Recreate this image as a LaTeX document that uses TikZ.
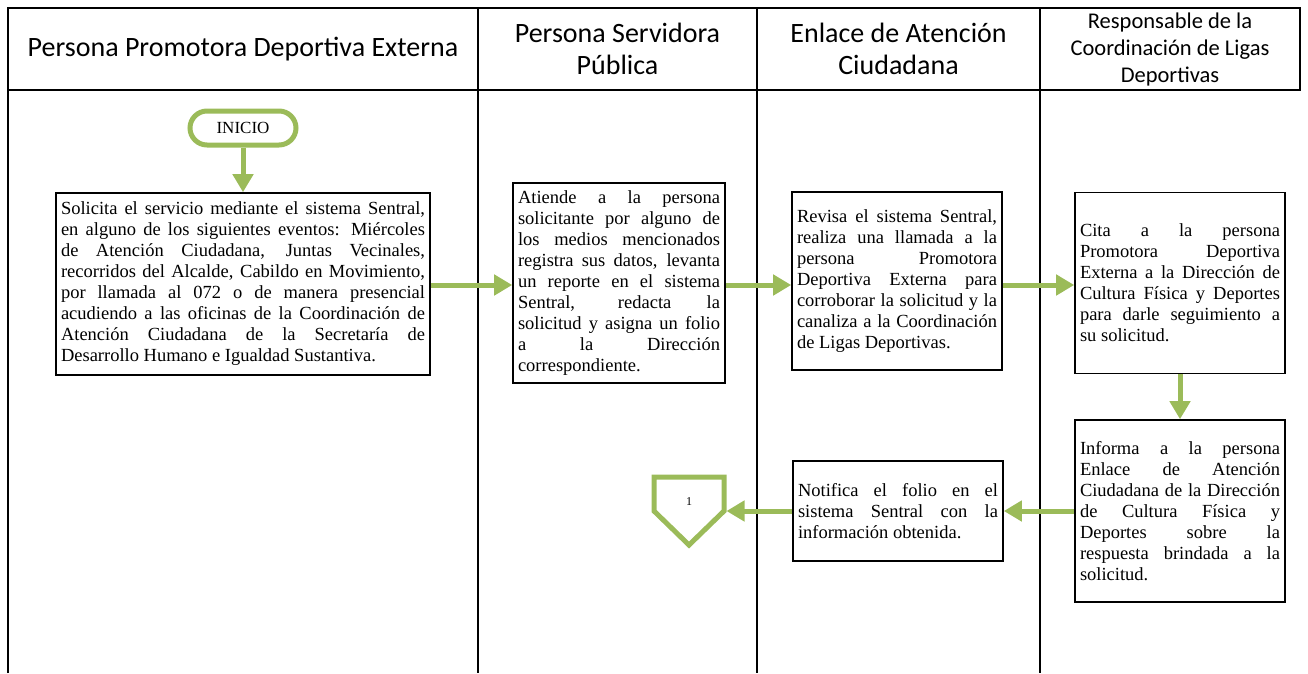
\documentclass[tikz,border=0pt]{standalone}
\usepackage{fontspec}
\setmainfont{Liberation Serif}
\newfontfamily\encab{Carlito}
\usetikzlibrary{arrows.meta}

\definecolor{verde}{HTML}{9BBB59}
\newcommand\cuerpo{\fontsize{18.5}{21}\selectfont\tolerance=10000\hyphenpenalty=10000}

\tikzset{
    carril/.style={line width=1.4pt},
    titulo/.style={font=\encab\fontsize{28}{32}\selectfont, align=center},
    caja/.style={draw, line width=1.6pt, align=justify, inner sep=5pt, font=\cuerpo},
    flecha/.style={draw=verde, line width=5pt, -{Triangle[length=18pt,width=20pt]}},
}

\begin{document}
\begin{tikzpicture}[x=1pt, y=-1pt]
    \useasboundingbox (0,0) rectangle (1308,673);
    % Draw lanes
    \draw[carril] (8,673) -- (8,8) -- (1300,8) -- (1300,90) -- (8,90);
    \foreach \x in {478,757,1040}
        \draw[carril] (\x,8) -- (\x,673);
    \node[titulo] (t1) at (243,49) {Persona Promotora Deportiva Externa};
    \node[titulo] (t2) at (617.5,49) {Persona Servidora\\Pública};
    \node[titulo] (t3) at (898.5,49) {Enlace de Atención\\Ciudadana};
    \node[titulo, font=\encab\fontsize{22.5}{27}\selectfont] (t4) at (1170,49) {Responsable de la\\Coordinación de Ligas\\Deportivas};
    % Draw boxes
    \node[draw=verde, line width=5pt, rounded corners=17pt, minimum width=106pt, minimum height=34pt, font=\fontsize{17}{19}\selectfont] (inicio) at (243,128) {INICIO};
    \node[caja, text width=364pt, minimum height=182pt] (b1) at (243,284) {Solicita el servicio mediante el sistema Sentral,\linebreak en alguno de los siguientes eventos: Miércoles\linebreak de Atención Ciudadana, Juntas Vecinales,\linebreak recorridos del Alcalde, Cabildo en Movimiento,\linebreak por llamada al 072 o de manera presencial\linebreak acudiendo a las oficinas de la Coordinación de\linebreak Atención Ciudadana de la Secretaría de\linebreak Desarrollo Humano e Igualdad Sustantiva.};
    \node[caja, text width=202pt, minimum height=200pt] (b2) at (619,283) {Atiende a la persona\linebreak solicitante por alguno de\linebreak los medios mencionados\linebreak registra sus datos, levanta\linebreak un reporte en el sistema\linebreak Sentral, redacta la\linebreak solicitud y asigna un folio\linebreak a la Dirección\linebreak correspondiente.};
    \node[caja, text width=200pt, minimum height=178pt] (b3) at (897,281) {Revisa el sistema Sentral,\linebreak realiza una llamada a la\linebreak persona Promotora\linebreak Deportiva Externa para\linebreak corroborar la solicitud y la\linebreak canaliza a la Coordinación\linebreak de Ligas Deportivas.};
    \node[caja, text width=200pt, minimum height=181pt] (b4) at (1180,283) {Cita a la persona\linebreak Promotora Deportiva\linebreak Externa a la Dirección de\linebreak Cultura Física y Deportes\linebreak para darle seguimiento a\linebreak su solicitud.};
    \node[caja, text width=200pt, minimum height=182pt] (b5) at (1180,511) {Informa a la persona\linebreak Enlace de Atención\linebreak Ciudadana de la Dirección\linebreak de Cultura Física y\linebreak Deportes sobre la\linebreak respuesta brindada a la\linebreak solicitud.};
    \node[caja, text width=200pt, minimum height=100pt] (b6) at (898,511) {Notifica el folio en el\linebreak sistema Sentral con la\linebreak información obtenida.};
    % Draw connector
    \draw[draw=verde, line width=5pt] (654,477) -- (724,477) -- (724,511) -- (689,545) -- (654,511) -- cycle;
    \node[font=\fontsize{12}{14}\selectfont] (uno) at (689,502) {1};
    \coordinate (c1) at (726.5,511);
    % Draw arrows
    \draw[flecha] (inicio) -- (b1);
    \draw[flecha] (b1.east |- 0,285) -- (b2.west |- 0,285);
    \draw[flecha] (b2.east |- 0,285) -- (b3.west |- 0,285);
    \draw[flecha] (b3.east |- 0,285) -- (b4.west |- 0,285);
    \draw[flecha] (b4) -- (b5);
    \draw[flecha] (b5) -- (b6);
    \draw[flecha] (b6) -- (c1);
\end{tikzpicture}
\end{document}
